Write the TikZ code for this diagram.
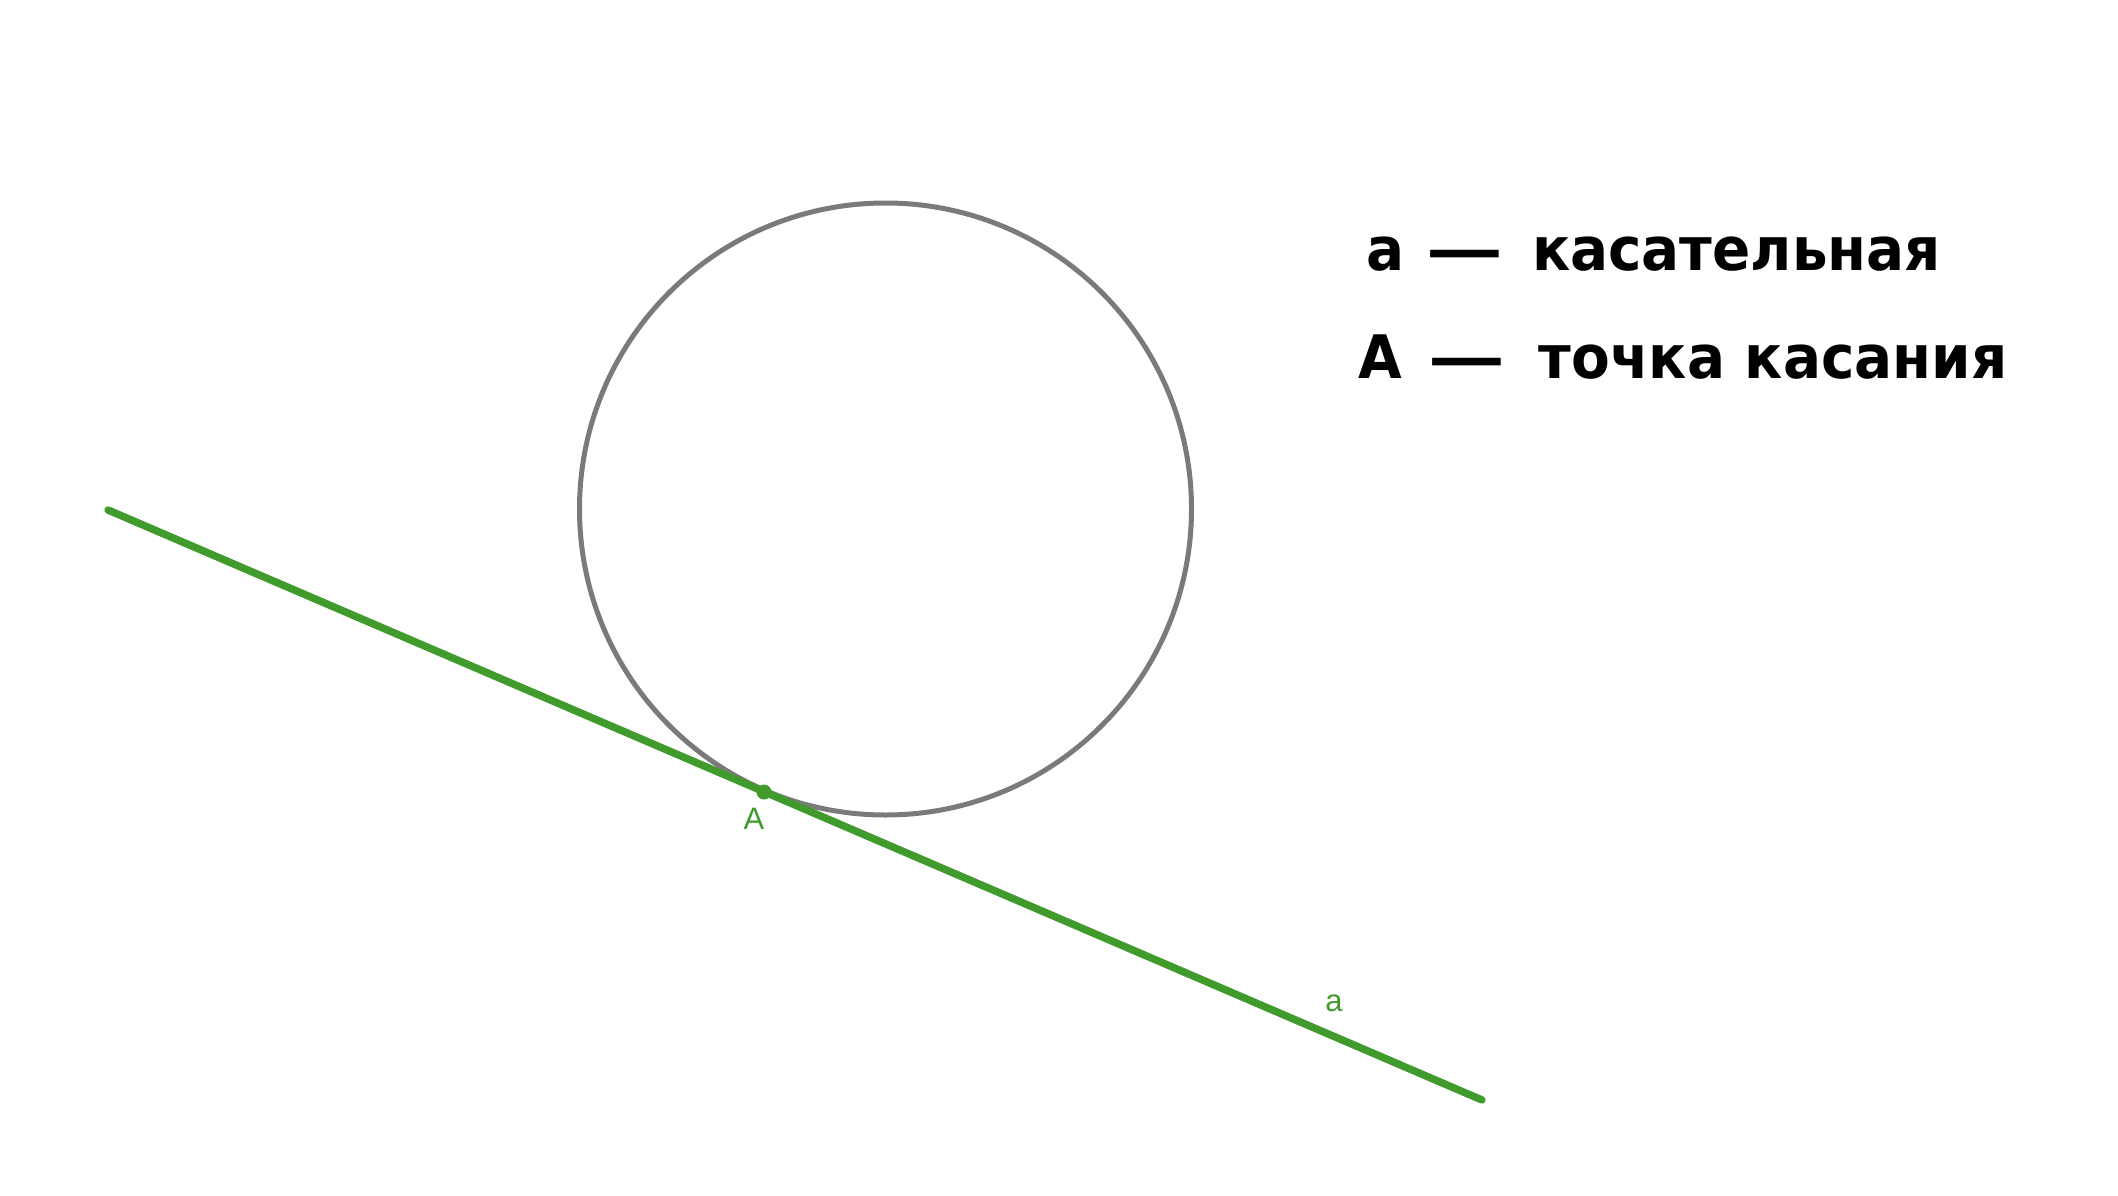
\documentclass[tikz,border=0pt]{standalone}
\usepackage{fontspec}
\usepackage{graphicx}
\setmainfont{DejaVu Sans}
\newfontfamily\lblfont{Liberation Sans}
\definecolor{lgreen}{RGB}{64,155,44}
\definecolor{cgray}{RGB}{122,122,122}
\newcommand{\nar}[1]{\scalebox{0.94}[1]{#1}}
\newcommand{\ldash}[2]{\hspace{#1}\scalebox{1.28}[1]{—}\hspace{#2}}
\begin{document}
\begin{tikzpicture}[x=1pt,y=-1pt,
  tangentline/.style={draw=lgreen,line width=7.5pt,line cap=round},
  circleline/.style={draw=cgray,line width=5pt},
  ptlabel/.style={text=lgreen,font=\lblfont\fontsize{31}{31}\selectfont,inner sep=0pt},
  legend/.style={font=\bfseries\fontsize{60}{60}\selectfont,anchor=base west,inner sep=0pt}]
\useasboundingbox (0,0) rectangle (2118,1196);
\coordinate (C) at (885.5,509);
\coordinate (P1) at (108,510);
\coordinate (P2) at (1482,1100);
\draw[circleline] (C) circle[radius=306];
\draw[tangentline] (P1) -- (P2);
\node[circle,fill=lgreen,inner sep=0pt,minimum size=15pt] (A) at (764,792) {};
\node[ptlabel] (labA) at (754,819) {A};
\node[ptlabel] (laba) at (1334,1003) {a};
\node[legend] (l1) at (1366,270) {\nar{а}\ldash{22pt}{29pt}\nar{касательная}};
\node[legend] (l2) at (1358,378) {\nar{А}\ldash{27pt}{33pt}\nar{точка касания}};
\end{tikzpicture}
\end{document}
